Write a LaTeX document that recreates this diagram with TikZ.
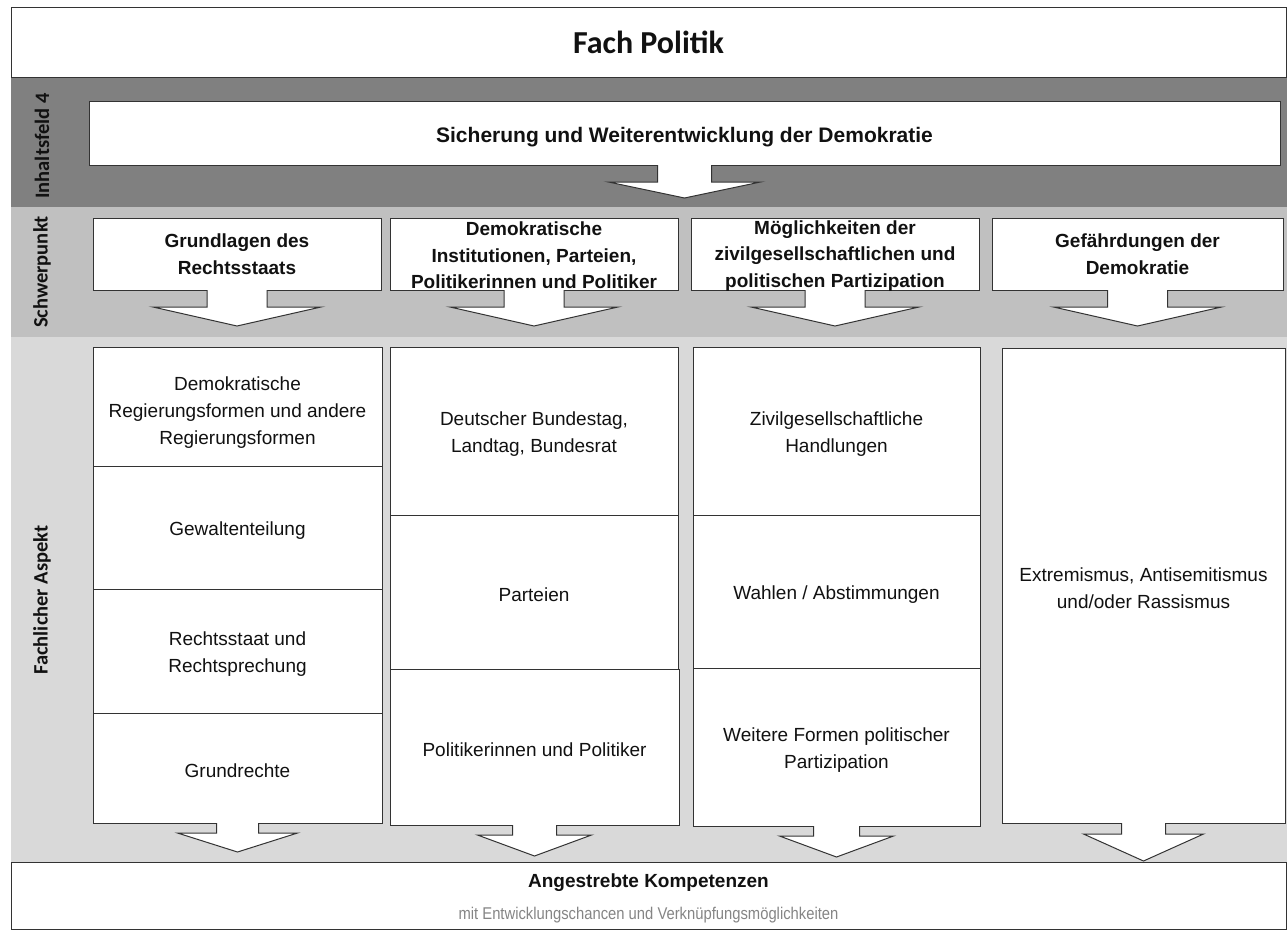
\documentclass[tikz,border=0pt]{standalone}
\usepackage{fontspec}
\setmainfont{Liberation Sans}
\newfontfamily\calib{Carlito}
\usepackage{graphicx}
\definecolor{bandA}{HTML}{808080}
\definecolor{bandB}{HTML}{C0C0C0}
\definecolor{bandC}{HTML}{D9D9D9}
\definecolor{lineC}{HTML}{333333}
\definecolor{txtC}{HTML}{111111}
\definecolor{subC}{HTML}{858585}
\tikzset{
  box/.style={draw=lineC, line width=1pt, fill=white, anchor=north west, inner sep=0pt, outer sep=0pt},
  btext/.style={font=\fontsize{19}{26.5}\selectfont\bfseries, align=center, text=txtC, inner sep=0pt},
  rtext/.style={font=\fontsize{19}{27}\selectfont, align=center, text=txtC, inner sep=0pt, yshift=-3pt},
  bandlabel/.style={font=\calib\fontsize{20.5}{24}\selectfont\bfseries, rotate=90, text=txtC, inner sep=0pt},
  arrline/.style={draw=lineC, line width=1pt, line join=miter},
}
% #1 node, #2 stem half width, #3 stem length, #4 head half width, #5 head length
\newcommand{\blockarrow}[5]{%
  \fill[white] ([xshift=-#2pt,yshift=1.5pt]#1.south) -- ++(0,-#3-1.5) -- ++(#2-#4,0) -- ++(#4,-#5) -- ++(#4,#5) -- ++(#2-#4,0) -- ++(0,#3+1.5) -- cycle;
  \draw[arrline] ([xshift=-#2pt]#1.south) -- ++(0,-#3) -- ++(#2-#4,0) -- ++(#4,-#5) -- ++(#4,#5) -- ++(#2-#4,0) -- ++(0,#3);
}
% #1 name, #2 x, #3 y (down), #4 width, #5 height
\newcommand{\bx}[5]{\node[box, minimum width=#4pt, minimum height=#5pt] (#1) at (#2,-#3) {};}
\begin{document}
\begin{tikzpicture}[x=1pt,y=1pt]
\useasboundingbox (0,0) rectangle (1287,-930);
\fill[white] (0,0) rectangle (1287,-930);
% bands
\fill[bandA] (11,-77) rectangle (1287,-207);
\fill[bandB] (11,-207) rectangle (1287,-337);
\fill[bandC] (11,-337) rectangle (1287,-862);
% title
\bx{title}{11}{7}{1275}{70}
\node[font=\calib\fontsize{32}{36}\selectfont\bfseries, text=txtC] (titletext) at (title.center) {Fach Politik};
% band labels
\node[bandlabel] (l1) at (42,-146) {Inhaltsfeld 4};
\node[bandlabel] (l2) at (42,-272) {Schwerpunkt};
\node[bandlabel] (l3) at (42,-600) {Fachlicher Aspekt};
% top box
\bx{top}{89}{101}{1191}{64}
\node[btext, font=\fontsize{21}{24}\selectfont\bfseries, yshift=-4pt] (toptext) at (top.center) {Sicherung und Weiterentwicklung der Demokratie};
% Schwerpunkt boxes
\bx{s1}{93}{218}{288}{72}
\bx{s2}{390}{218}{288}{72}
\bx{s3}{691}{218}{288}{72}
\bx{s4}{992}{218}{291}{72}
\node[btext] (s1t) at (s1.center) {Grundlagen des\\Rechtsstaats};
\node[btext, yshift=-1.5pt] (s2t) at (s2.center) {Demokratische\\Institutionen, Parteien,\\Politikerinnen und Politiker};
\node[btext, yshift=-2pt] (s3t) at (s3.center) {Möglichkeiten der\\zivilgesellschaftlichen und\\politischen Partizipation};
\node[btext] (s4t) at (s4.center) {Gefährdungen der\\Demokratie};
% Fachlicher Aspekt boxes
\bx{c1a}{93}{347}{289}{119}
\bx{c1b}{93}{466}{289}{123}
\bx{c1c}{93}{589}{289}{124}
\bx{c1d}{93}{713}{289}{110}
\bx{c2a}{390}{347}{288}{168}
\bx{c2b}{390}{515}{288}{154}
\bx{c2c}{390}{669}{289}{156}
\bx{c3a}{693}{347}{287}{168}
\bx{c3b}{693}{515}{287}{153}
\bx{c3c}{693}{668}{287}{158}
\bx{c4}{1002}{348}{283}{475}
\node[rtext, yshift=-3pt] (c1at) at (c1a.center) {Demokratische\\Regierungsformen und andere\\Regierungsformen};
\node[rtext] (c1bt) at (c1b.center) {Gewaltenteilung};
\node[rtext] (c1ct) at (c1c.center) {Rechtsstaat und\\Rechtsprechung};
\node[rtext] (c1dt) at (c1d.center) {Grundrechte};
\node[rtext] (c2at) at (c2a.center) {Deutscher Bundestag,\\Landtag, Bundesrat};
\node[rtext] (c2bt) at (c2b.center) {Parteien};
\node[rtext] (c2ct) at (c2c.center) {Politikerinnen und Politiker};
\node[rtext] (c3at) at (c3a.center) {Zivilgesellschaftliche\\Handlungen};
\node[rtext] (c3bt) at (c3b.center) {Wahlen / Abstimmungen};
\node[rtext] (c3ct) at (c3c.center) {Weitere Formen politischer\\Partizipation};
\node[rtext] (c4t) at (c4.center) {Extremismus, Antisemitismus\\und/oder Rassismus};
% bottom box
\bx{bottom}{11}{862}{1275}{67.5}
\node[btext] (bt1) at (648.5,-883) {Angestrebte Kompetenzen};
\node[font=\fontsize{17}{20}\selectfont, text=subC, inner sep=0pt] (bt2) at (648.5,-915) {\scalebox{0.87}[1]{mit Entwicklungschancen und Verknüpfungsmöglichkeiten}};
% block arrows
\blockarrow{top}{27}{17}{76}{16}
\blockarrow{s1}{30}{17}{84}{19}
\blockarrow{s2}{30}{17}{84}{19}
\blockarrow{s3}{30}{17}{84}{19}
\blockarrow{s4}{30}{17}{84}{19}
\blockarrow{c1d}{21}{10}{60}{19}
\blockarrow{c2c}{22}{10}{57}{21}
\blockarrow{c3c}{23}{10}{57}{21}
\blockarrow{c4}{22}{11}{60}{27}
\end{tikzpicture}
\end{document}
